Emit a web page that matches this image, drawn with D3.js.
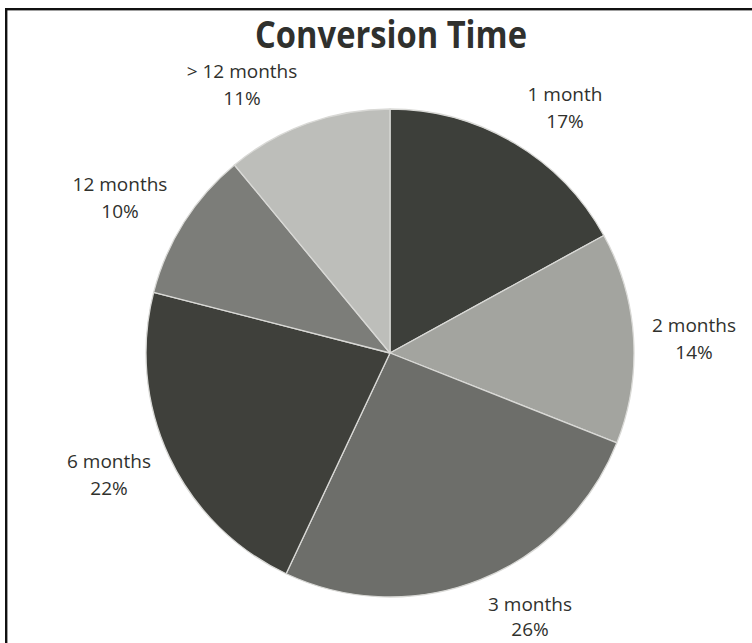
<!DOCTYPE html>
<html>
<head>
<meta charset="utf-8">
<script src="https://cdn.jsdelivr.net/npm/d3@7"></script>
<style>
  html, body { margin: 0; padding: 0; background: #fff; }
  svg { display: block; }
</style>
</head>
<body>
<svg id="chart" width="752" height="643"></svg>
<script>
// Conversion time distribution (percent of conversions)
const categories = ["1 month", "2 months", "3 months", "6 months", "12 months", "> 12 months"];
const values = [17, 14, 26, 22, 10, 11];
const sliceColors = ["#3d3f3a", "#a3a49f", "#6d6e6a", "#3f403b", "#7c7d79", "#bdbeba"];
// Label anchor per slice: [x, first-line baseline, line gap]
const labelPos = [[565, 101, 27], [694, 332, 27], [530, 611, 25], [109, 468, 27], [120, 191, 27], [242, 78, 27]];

const svg = d3.select("#chart");
const cx = 390, cy = 353, radius = 244;

// Frame
svg.append("rect")
  .attr("x", 6.2).attr("y", 9.2)
  .attr("width", 800).attr("height", 700)
  .attr("fill", "none")
  .attr("stroke", "#111")
  .attr("stroke-width", 2.4);

// Title
svg.append("text")
  .attr("x", 391).attr("y", 48.3)
  .attr("text-anchor", "middle")
  .attr("font-family", "'Open Sans', sans-serif")
  .attr("font-weight", "bold")
  .attr("font-size", 37)
  .attr("textLength", 272)
  .attr("lengthAdjust", "spacingAndGlyphs")
  .attr("fill", "#2f302d")
  .text("Conversion Time");

const data = categories.map((c, i) => ({ name: c, value: values[i], color: sliceColors[i], pos: labelPos[i] }));

const pie = d3.pie().value(d => d.value).sort(null);
const arc = d3.arc().innerRadius(0).outerRadius(radius);

const g = svg.append("g").attr("transform", `translate(${cx},${cy})`);
g.selectAll("path")
  .data(pie(data))
  .join("path")
  .attr("d", arc)
  .attr("fill", d => d.data.color)
  .attr("stroke", "#d9d9d6")
  .attr("stroke-width", 1.3)
  .attr("stroke-linejoin", "round");

// Category / percent labels
const total = d3.sum(values);
const labels = svg.append("g")
  .attr("font-family", "'Open Sans', sans-serif")
  .attr("font-size", 19)
  .attr("fill", "#30312d")
  .attr("text-anchor", "middle");

data.forEach(d => {
  const t = labels.append("text").attr("x", d.pos[0]).attr("y", d.pos[1]);
  t.append("tspan").attr("x", d.pos[0]).text(d.name);
  t.append("tspan").attr("x", d.pos[0]).attr("dy", d.pos[2])
    .text(d3.format(".0%")(d.value / total));
});
</script>
</body>
</html>
